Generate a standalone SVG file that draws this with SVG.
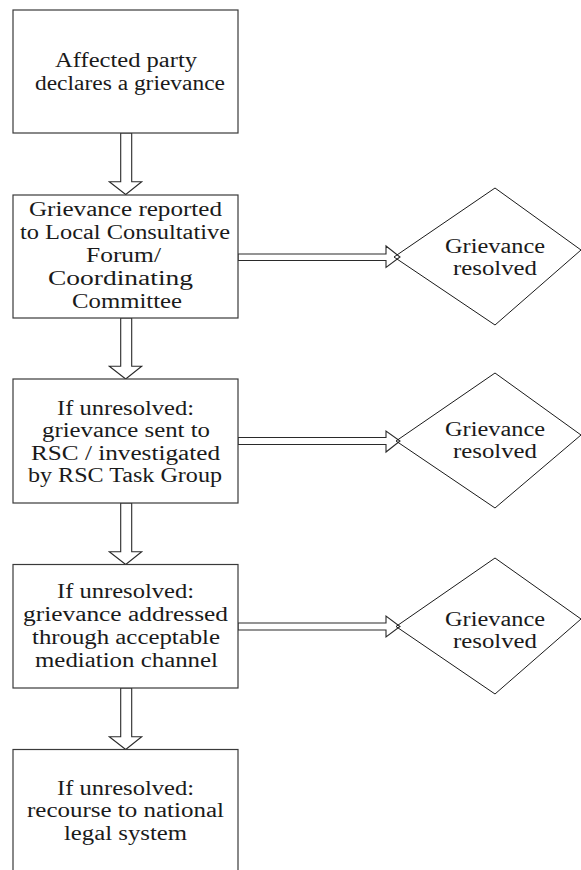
<svg xmlns="http://www.w3.org/2000/svg" width="581" height="870" viewBox="0 0 581 870">
  <rect width="581" height="870" fill="#ffffff"/>

  <!-- Block arrows between steps and out to the outcomes -->
  <g id="connectors" fill="#ffffff" stroke="#2a2a2a" stroke-width="1.1" stroke-linejoin="miter">
    <!-- downward arrows -->
    <path d="M120.7,133 V181.7 H109.3 L125.7,194.5 L141.7,181.7 H131.7 V133 Z"/>
    <path d="M120.7,318 V366.3 H109.3 L125.7,379 L141.7,366.3 H131.7 V318 Z"/>
    <path d="M120.7,503 V551.7 H109.3 L125.7,564.5 L141.7,551.7 H131.7 V503 Z"/>
    <path d="M120.7,688 V736.7 H109.3 L125.7,749.5 L141.7,736.7 H131.7 V688 Z"/>
    <!-- rightward arrows -->
    <path d="M238,254 H386 V246 L400,257 L386,267.5 V260.5 H238 Z"/>
    <path d="M238,437.5 H386 V431 L400,441 L386,452 V444.5 H238 Z"/>
    <path d="M238,623 H386 V616 L400,626.5 L386,637 V630 H238 Z"/>
  </g>

  <!-- process steps -->
  <g fill="#ffffff" stroke="#3a3a3a" stroke-width="1.2">
    <rect id="step1-box" x="13" y="10" width="225" height="123"/>
    <rect id="step2-box" x="13" y="195" width="225" height="123"/>
    <rect id="step3-box" x="13" y="379" width="225" height="124"/>
    <rect id="step4-box" x="13" y="564.5" width="225" height="123.5"/>
    <rect id="step5-box" x="13" y="749.5" width="225" height="140"/>
  </g>

  <!-- outcome diamonds -->
  <g fill="none" stroke="#1a1a1a" stroke-width="1">
    <polygon id="resolved1-shape" points="495,188 581,250 495,325 394,257"/>
    <polygon id="resolved2-shape" points="495,373 581,435 495,508 396,441"/>
    <polygon id="resolved3-shape" points="495,558 581,619 495,694 396,626.5"/>
  </g>

  <g font-family="Liberation Serif" font-size="20" fill="#1a1a1a">
    <g id="step1">
      <text x="55" y="67" textLength="142" lengthAdjust="spacingAndGlyphs">Affected party</text>
      <text x="35" y="89.5" textLength="190" lengthAdjust="spacingAndGlyphs">declares a grievance</text>
    </g>
    <g id="step2">
      <text x="29" y="216" textLength="193" lengthAdjust="spacingAndGlyphs">Grievance reported</text>
      <text x="20" y="239" textLength="210" lengthAdjust="spacingAndGlyphs">to Local Consultative</text>
      <text x="86" y="262" textLength="75" lengthAdjust="spacingAndGlyphs">Forum/</text>
      <text x="48" y="285" textLength="145" lengthAdjust="spacingAndGlyphs">Coordinating</text>
      <text x="72" y="308" textLength="110" lengthAdjust="spacingAndGlyphs">Committee</text>
    </g>
    <g id="step3">
      <text x="57" y="415" textLength="137" lengthAdjust="spacingAndGlyphs">If unresolved:</text>
      <text x="42" y="437" textLength="168" lengthAdjust="spacingAndGlyphs">grievance sent to</text>
      <text x="31" y="459.5" textLength="189" lengthAdjust="spacingAndGlyphs">RSC / investigated</text>
      <text x="28" y="482" textLength="194" lengthAdjust="spacingAndGlyphs">by RSC Task Group</text>
    </g>
    <g id="step4">
      <text x="57" y="598" textLength="137" lengthAdjust="spacingAndGlyphs">If unresolved:</text>
      <text x="23" y="621" textLength="205" lengthAdjust="spacingAndGlyphs">grievance addressed</text>
      <text x="32" y="644" textLength="188" lengthAdjust="spacingAndGlyphs">through acceptable</text>
      <text x="35" y="667" textLength="183" lengthAdjust="spacingAndGlyphs">mediation channel</text>
    </g>
    <g id="step5">
      <text x="57" y="795" textLength="137" lengthAdjust="spacingAndGlyphs">If unresolved:</text>
      <text x="27" y="817" textLength="197" lengthAdjust="spacingAndGlyphs">recourse to national</text>
      <text x="64" y="840" textLength="123" lengthAdjust="spacingAndGlyphs">legal system</text>
    </g>
    <g id="resolved1">
      <text x="445" y="253" textLength="100" lengthAdjust="spacingAndGlyphs">Grievance</text>
      <text x="453" y="275" textLength="84" lengthAdjust="spacingAndGlyphs">resolved</text>
    </g>
    <g id="resolved2">
      <text x="445" y="436" textLength="100" lengthAdjust="spacingAndGlyphs">Grievance</text>
      <text x="453" y="458" textLength="84" lengthAdjust="spacingAndGlyphs">resolved</text>
    </g>
    <g id="resolved3">
      <text x="445" y="626" textLength="100" lengthAdjust="spacingAndGlyphs">Grievance</text>
      <text x="453" y="648" textLength="84" lengthAdjust="spacingAndGlyphs">resolved</text>
    </g>
  </g>
</svg>
